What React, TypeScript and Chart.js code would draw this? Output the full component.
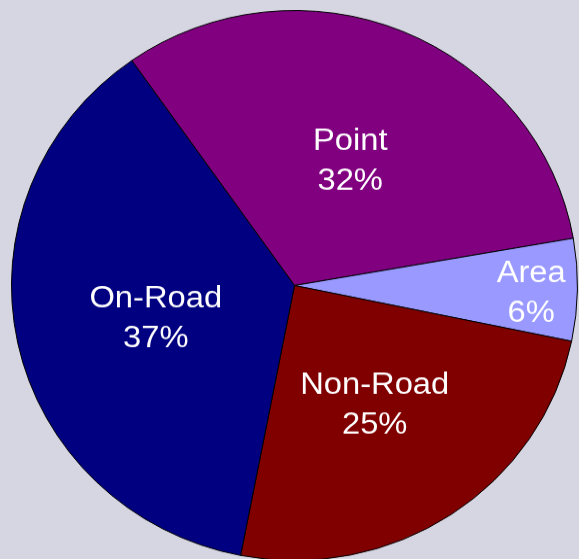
import React, { useEffect, useRef } from "react";
import { Chart, registerables } from "chart.js";

Chart.register(...registerables);

const categories: string[] = ["Point", "Area", "Non-Road", "On-Road"];
const shares: number[] = [32.0, 6.0, 24.8, 37.2];
const colors: string[] = ["#800080", "#9999FF", "#800000", "#000080"];

const sliceLabelPlugin = {
  id: "sliceLabels",
  afterDatasetsDraw(chart: any) {
    const ctx: CanvasRenderingContext2D = chart.ctx;
    const meta = chart.getDatasetMeta(0);
    const data = chart.data.datasets[0].data as number[];
    const labels = chart.data.labels as string[];
    const total = data.reduce((a, b) => a + b, 0);
    const fontSize = 31;
    const lineGap = 41;
    const capH = fontSize * 0.716;
    ctx.save();
    ctx.font = `${fontSize}px "Liberation Sans", Arial, sans-serif`;
    ctx.fillStyle = "#ffffff";
    ctx.textAlign = "center";
    ctx.textBaseline = "alphabetic";
    meta.data.forEach((arc: any, i: number) => {
      const { x, y, startAngle, endAngle, outerRadius } = arc.getProps(
        ["x", "y", "startAngle", "endAngle", "outerRadius"],
        true
      );
      const mid = (startAngle + endAngle) / 2;
      const pct = (data[i] / total) * 100;
      const frac = pct < 10 ? 0.833 : 0.505;
      const ax = x + Math.cos(mid) * outerRadius * frac + 1;
      const ay = y + Math.sin(mid) * outerRadius * frac + 2;
      const lines = [labels[i], `${Math.round(pct)}%`];
      lines.forEach((t, k) => {
        const by = ay + (k === 0 ? -lineGap / 2 : lineGap / 2) + capH / 2;
        ctx.save();
        ctx.translate(ax, by);
        ctx.scale(1.055, 1);
        ctx.fillText(t, 0, 0);
        ctx.restore();
      });
    });
    ctx.restore();
  },
};

export default function App() {
  const ref = useRef<HTMLCanvasElement | null>(null);
  useEffect(() => {
    if (!ref.current) return;
    const chart = new Chart(ref.current, {
      type: "pie",
      data: {
        labels: categories,
        datasets: [
          {
            data: shares,
            backgroundColor: colors,
            borderColor: "#000000",
            borderWidth: 1,
          },
        ],
      },
      options: {
        responsive: false,
        animation: false,
        rotation: -35.1,
        layout: { padding: 0 },
        plugins: {
          legend: { display: false },
          tooltip: { enabled: false },
        },
      },
      plugins: [sliceLabelPlugin],
    });
    return () => chart.destroy();
  }, []);
  return (
    <>
      <div
        style={{
          position: "fixed",
          left: 0,
          top: 0,
          right: 0,
          bottom: 0,
          background: "rgb(214,214,226)",
        }}
      />
      <div
        style={{
          position: "absolute",
          left: 11,
          top: 10,
          width: 567,
          height: 567,
          transform: "scaleY(0.9717)",
          transformOrigin: "0 0",
        }}
      >
        <canvas ref={ref} width={567} height={567} style={{ display: "block" }} />
      </div>
    </>
  );
}
